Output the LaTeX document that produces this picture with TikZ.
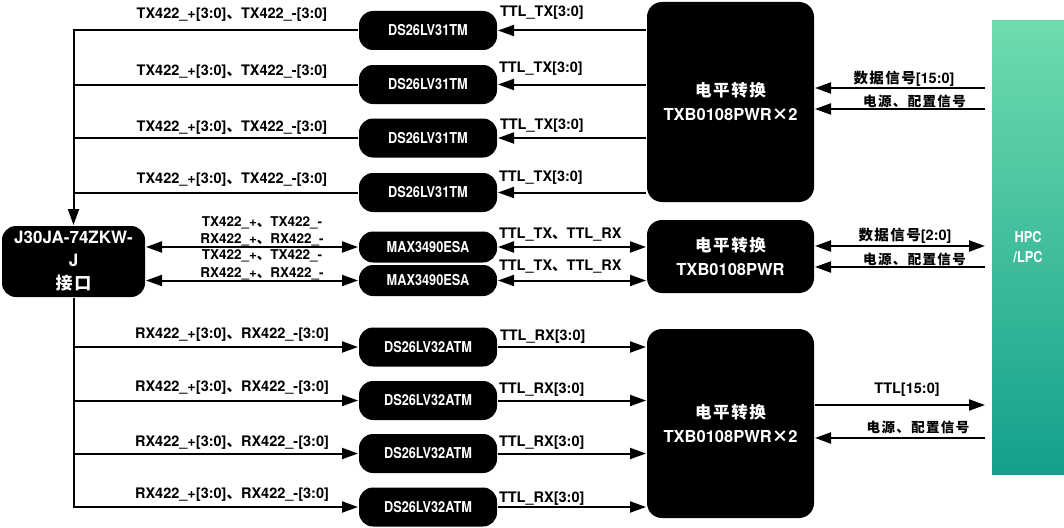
\documentclass[tikz,border=0pt]{standalone}
\usepackage{fontspec}
\setmainfont{TeX Gyre Heros}
\newfontfamily\narrow{TeX Gyre Heros}[FakeStretch=0.85]
\newfontfamily\cjk{Noto Sans CJK SC}[LetterSpace=10]
\usetikzlibrary{arrows.meta, positioning}
\definecolor{hpctop}{RGB}{110, 220, 174}
\definecolor{hpcbot}{RGB}{20, 160, 140}

\begin{document}
\begin{tikzpicture}[x=1pt, y=-1pt, line width=2pt, >={Triangle[length=16pt, width=11pt]},
  chip/.style={fill=black, text=white, rounded corners=14pt, inner sep=0pt, minimum width=138pt, minimum height=39pt, font=\narrow\bfseries\fontsize{15}{17}\selectfont},
  conv/.style={fill=black, text=white, rounded corners=15pt, inner sep=0pt, minimum width=167pt, align=center, font=\bfseries\fontsize{16.5}{24}\selectfont},
  sig/.style={inner sep=0pt, font=\bfseries\fontsize{14.5}{16}\selectfont},
  cjklab/.style={inner sep=0pt, font=\bfseries\cjk\fontsize{13.5}{16}\selectfont}]
  \useasboundingbox (0,0) rectangle (1064,527);

  % Connector and FPGA side
  \node[fill=black, text=white, rounded corners=14pt, inner sep=0pt, minimum width=143pt, minimum height=71pt, align=center, font=\bfseries\fontsize{17}{23}\selectfont] (j30) at (73.5,261.5) {J30JA-74ZKW-\\J\\{\cjk 接口}};
  \node[top color=hpctop, bottom color=hpcbot, inner sep=0pt, minimum width=72pt, minimum height=453pt, text=white, align=center, font=\narrow\bfseries\fontsize{15}{20}\selectfont] (hpc) at (1028,247.5) {HPC\\/LPC};
  \coordinate (hpcin) at ([xshift=-6pt]hpc.west);

  % Level shifters
  \node[conv, minimum height=200pt] (txbA) at (730.5,102) {{\cjk 电平转换}\\TXB0108PWR{\cjk ×}2};
  \node[conv, minimum height=73pt] (txbB) at (730.5,256.5) {{\cjk 电平转换}\\TXB0108PWR};
  \node[conv, minimum height=189pt] (txbC) at (730.5,423.5) {{\cjk 电平转换}\\TXB0108PWR{\cjk ×}2};

  % Drivers
  \node[chip] (tx1) at (428,30.5) {DS26LV31TM};
  \node[chip] (tx2) at (428,84.5) {DS26LV31TM};
  \node[chip] (tx3) at (428,138) {DS26LV31TM};
  \node[chip] (tx4) at (428,192.5) {DS26LV31TM};
  \node[chip, minimum height=31pt] (mx1) at (428,247) {MAX3490ESA};
  \node[chip, minimum height=31pt] (mx2) at (428,280.5) {MAX3490ESA};
  \node[chip] (rx1) at (428,347) {DS26LV32ATM};
  \node[chip] (rx2) at (428,400.5) {DS26LV32ATM};
  \node[chip] (rx3) at (428,453.5) {DS26LV32ATM};
  \node[chip] (rx4) at (428,507) {DS26LV32ATM};

  % Transmit lines
  \draw[->] (txbA.west |- tx1) -- (tx1.east);
  \draw[->] (txbA.west |- tx2) -- (tx2.east);
  \draw[->] (txbA.west |- tx3) -- (tx3.east);
  \draw[->] (txbA.west |- tx4) -- (tx4.east);
  \draw[->] (tx1.west) -| (j30.north);
  \draw (tx2.west) -- (tx2.west -| j30.north);
  \draw (tx3.west) -- (tx3.west -| j30.north);
  \draw (tx4.west) -- (tx4.west -| j30.north);

  % Bidirectional lines
  \draw[<->] (j30.east |- mx1) -- (mx1.west);
  \draw[<->] (j30.east |- mx2) -- (mx2.west);
  \draw[<->] (mx1.east) -- (mx1.east -| txbB.west);
  \draw[<->] (mx2.east) -- (mx2.east -| txbB.west);

  % Receive lines
  \draw[->] (j30.south) |- (rx4.west);
  \draw[->] (rx1.west -| j30.south) -- (rx1.west);
  \draw[->] (rx2.west -| j30.south) -- (rx2.west);
  \draw[->] (rx3.west -| j30.south) -- (rx3.west);
  \draw[->] (rx1.east) -- (rx1.east -| txbC.west);
  \draw[->] (rx2.east) -- (rx2.east -| txbC.west);
  \draw[->] (rx3.east) -- (rx3.east -| txbC.west);
  \draw[->] (rx4.east) -- (rx4.east -| txbC.west);

  % HPC/LPC lines
  \draw[->] (hpcin |- 0,88) -- (txbA.east |- 0,88);
  \draw[->] (hpcin |- 0,109) -- (txbA.east |- 0,109);
  \draw[<->] (txbB.east |- 0,246) -- (hpcin |- 0,246);
  \draw[->] (hpcin |- 0,267) -- (txbB.east |- 0,267);
  \draw[->] (txbC.east |- 0,405) -- (hpcin |- 0,405);
  \draw[->] (hpcin |- 0,438) -- (txbC.east |- 0,438);

  % Labels
  \node[sig, anchor=base] (ltx1) at (232,18.3) {TX422\_+[3:0]{\cjk 、}TX422\_-[3:0]};
  \node[sig, anchor=base] (ltx2) at (232,75) {TX422\_+[3:0]{\cjk 、}TX422\_-[3:0]};
  \node[sig, anchor=base] (ltx3) at (232,131) {TX422\_+[3:0]{\cjk 、}TX422\_-[3:0]};
  \node[sig, anchor=base] (ltx4) at (232,183.3) {TX422\_+[3:0]{\cjk 、}TX422\_-[3:0]};
  \node[sig, anchor=base, font=\bfseries\fontsize{13.5}{16}\selectfont] (lmx1) at (262,226) {TX422\_+{\cjk 、}TX422\_-};
  \node[sig, anchor=base, font=\bfseries\fontsize{13.5}{16}\selectfont] (lmx2) at (262,243.3) {RX422\_+{\cjk 、}RX422\_-};
  \node[sig, anchor=base, font=\bfseries\fontsize{13.5}{16}\selectfont] (lmx3) at (262,259.3) {TX422\_+{\cjk 、}TX422\_-};
  \node[sig, anchor=base, font=\bfseries\fontsize{13.5}{16}\selectfont] (lmx4) at (262,277.7) {RX422\_+{\cjk 、}RX422\_-};
  \node[sig, anchor=base] (lrx1) at (232,338.3) {RX422\_+[3:0]{\cjk 、}RX422\_-[3:0]};
  \node[sig, anchor=base] (lrx2) at (232,391) {RX422\_+[3:0]{\cjk 、}RX422\_-[3:0]};
  \node[sig, anchor=base] (lrx3) at (232,446.7) {RX422\_+[3:0]{\cjk 、}RX422\_-[3:0]};
  \node[sig, anchor=base] (lrx4) at (232,498.3) {RX422\_+[3:0]{\cjk 、}RX422\_-[3:0]};

  \node[sig, anchor=base west] (lttx1) at (499,16.7) {TTL\_TX[3:0]};
  \node[sig, anchor=base west] (lttx2) at (498,72.3) {TTL\_TX[3:0]};
  \node[sig, anchor=base west] (lttx3) at (499,129.3) {TTL\_TX[3:0]};
  \node[sig, anchor=base west] (lttx4) at (498,181.7) {TTL\_TX[3:0]};
  \node[sig, anchor=base west] (ltmx1) at (498,238.3) {TTL\_TX{\cjk 、}TTL\_RX};
  \node[sig, anchor=base west] (ltmx2) at (498,270.7) {TTL\_TX{\cjk 、}TTL\_RX};
  \node[sig, anchor=base west] (ltrx1) at (499,340.7) {TTL\_RX[3:0]};
  \node[sig, anchor=base west] (ltrx2) at (498,393.3) {TTL\_RX[3:0]};
  \node[sig, anchor=base west] (ltrx3) at (498,446.7) {TTL\_RX[3:0]};
  \node[sig, anchor=base west] (ltrx4) at (498,502.3) {TTL\_RX[3:0]};

  \node[sig] (ldataA) at (904,78.5) {{\cjk 数据信号}[15:0]};
  \node[cjklab] (lpwrA) at (914.5,101) {电源、配置信号};
  \node[sig] (ldataB) at (905,236) {{\cjk 数据信号}[2:0]};
  \node[cjklab] (lpwrB) at (914.5,259) {电源、配置信号};
  \node[sig, anchor=base] (lttl) at (907,393) {TTL[15:0]};
  \node[cjklab] (lpwrC) at (918,427) {电源、配置信号};
\end{tikzpicture}
\end{document}
